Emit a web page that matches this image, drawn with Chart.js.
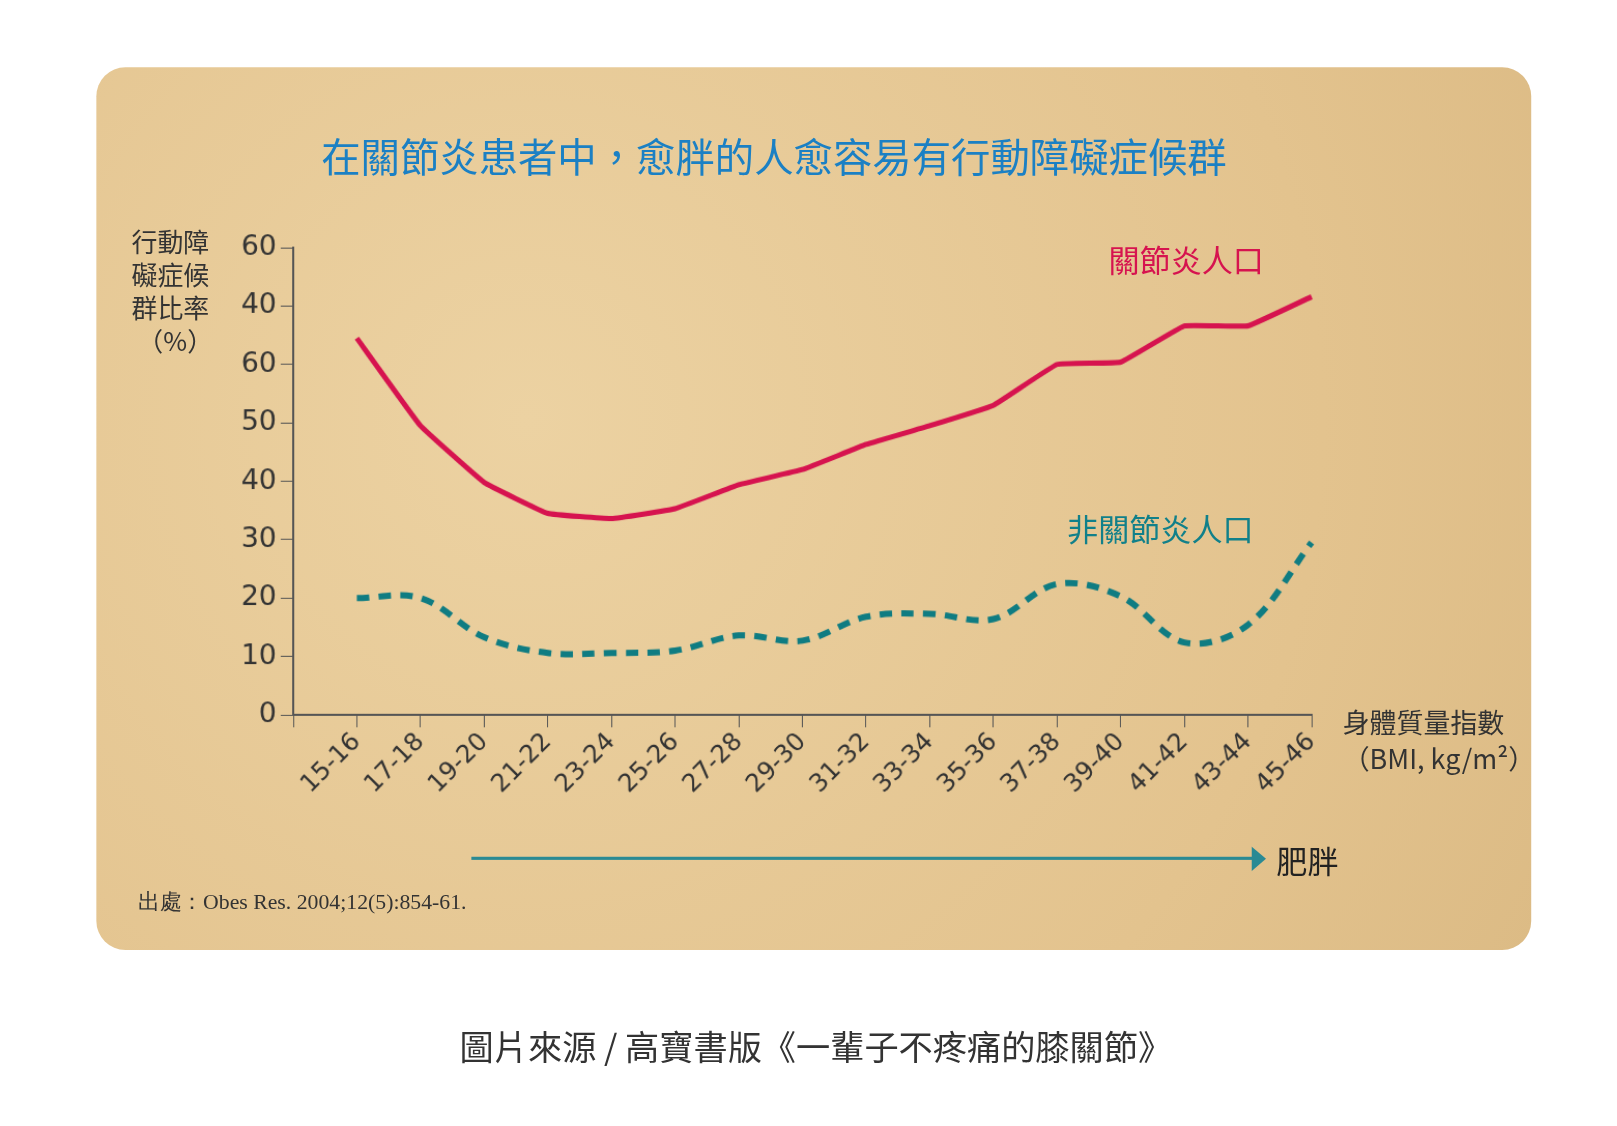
<!DOCTYPE html>
<html><head><meta charset="utf-8">
<script src="https://cdn.jsdelivr.net/npm/chart.js@4"></script>
<style>
body{margin:0;background:#fff;font-family:"Noto Sans CJK TC",sans-serif;overflow:hidden;}
#wrap{position:relative;width:1617px;height:1126px;transform:scale(1.036);transform-origin:0 0;}
#panel{position:absolute;left:93px;top:65px;width:1385px;height:852px;border-radius:28px;
 background:radial-gradient(circle at 30% 40%,#ecd2a2,#e3c38e 70%,#dcbb85);}
canvas{position:absolute;left:0;top:0;}
.t{position:absolute;white-space:nowrap;}
</style></head><body>
<div id="wrap">
<div id="panel"></div>
<canvas id="c" width="1617" height="1126"></canvas>
<div class="t" style="left:310px;top:122px;font-size:38px;color:#1b80c4;">在關節炎患者中，愈胖的人愈容易有行動障礙症候群</div>
<div class="t" style="left:127px;top:216px;font-size:25px;color:#333;line-height:32px;">行動障<br>礙症候<br>群比率<br>&nbsp;（%）</div>
<div class="t" style="left:1070px;top:228px;font-size:30px;color:#d6134f;">關節炎人口</div>
<div class="t" style="left:1030px;top:487px;font-size:30px;color:#11808a;">非關節炎人口</div>
<div class="t" style="left:1296px;top:680px;font-size:26px;color:#333;line-height:34px;">身體質量指數<br>（BMI, kg/m²）</div>
<div class="t" style="left:455px;top:827px;width:755px;height:3px;background:#2a8a94;"></div>
<div class="t" style="left:1208px;top:817px;width:0;height:0;border-left:14px solid #2a8a94;border-top:12px solid transparent;border-bottom:12px solid transparent;"></div>
<div class="t" style="left:1232px;top:808px;font-size:30px;color:#222;">肥胖</div>
<div class="t" style="left:133px;top:856px;font-size:21px;color:#333;font-family:'Liberation Serif',serif;">出處：Obes Res. 2004;12(5):854-61.</div>
<div class="t" style="left:0;width:1575px;text-align:center;top:985px;font-size:33px;color:#333;">圖片來源 / 高寶書版《一輩子不疼痛的膝關節》</div>
</div>
<script>
const categories = ['', '15-16','17-18','19-20','21-22','23-24','25-26','27-28','29-30','31-32','33-34','35-36','37-38','39-40','41-42','43-44','45-46'];
const arthritis = [null, 64.5,49.5,39.8,34.5,33.6,35.3,39.4,42,46.3,49.5,53,60,60.4,66.6,66.6,71.6];
const nonArthritis = [null, 20,20,13.3,10.6,10.6,11,13.6,12.7,16.8,17.3,16.4,22.4,20.3,12.4,15.4,29.5];
const tickValues = [0,10,20,30,40,50,60,70,80];
const tickLabels = ['0','10','20','30','40','50','60','40','60'];

new Chart(document.getElementById('c'), {
  type: 'line',
  data: {
    labels: categories,
    datasets: [
      {data: arthritis, borderColor:'#d6134f', borderWidth:5, pointRadius:0, tension:0.08},
      {data: nonArthritis, borderColor:'#0f7c82', borderWidth:6, borderDash:[12,9], pointRadius:0, tension:0.35}
    ]
  },
  options: {
    responsive:false, animation:false,
    layout:{padding:{left:193,top:239,right:351,bottom:326}},
    plugins:{legend:{display:false},tooltip:{enabled:false}},
    scales:{
      x:{
        afterFit(s){s.height=110;},
        grid:{drawOnChartArea:false,color:'#555',tickLength:12,offset:false},
        border:{color:'#555',width:2},
        ticks:{color:'#333',font:{size:24,family:'DejaVu Sans'},minRotation:45,maxRotation:45,padding:0}
      },
      y:{
        min:0,max:80,
        afterFit(s){s.width=90;},
        afterBuildTicks(s){s.ticks=tickValues.map(v=>({value:v}));},
        grid:{drawOnChartArea:false,color:'#555',tickLength:12},
        border:{color:'#555',width:2},
        ticks:{color:'#333',font:{size:27,family:'DejaVu Sans'},padding:4,
          callback:(v,i)=>tickLabels[i]}
      }
    }
  }
});
</script>
</body></html>
